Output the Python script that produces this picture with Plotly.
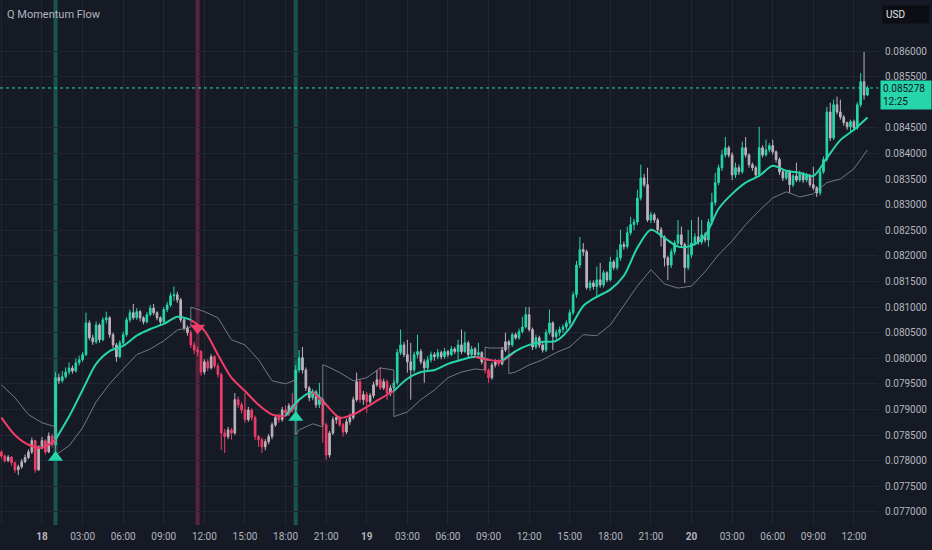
"""
Q Momentum Flow - 15m candles, 17th 21:00 -> 20th 13:00.

Candles are coloured by trend regime (teal = with-trend up, pink =
with-trend down, grey = counter-trend), with the smoothed mid line,
the trailing band that flips side on each regime change, and the
signal triangles with their highlight columns.
"""

import math

import pandas as pd
import plotly.graph_objects as go

# ── Data ───────────────────────────────────────────────────────────────────
START = "2025-06-17 21:00"      # first 15m candle
FIRST_OPEN = 0.07817

CLOSE = [
    0.07809, 0.07800, 0.07807, 0.07796, 0.07782, 0.07788, 0.07798, 0.07806, 0.07817, 0.07839, 0.07782, 0.07827,
    0.07839, 0.07817, 0.07848, 0.07831, 0.07962, 0.07956, 0.07964, 0.07973, 0.07981, 0.07975, 0.07991, 0.07997,
    0.08007, 0.08069, 0.08040, 0.08032, 0.08065, 0.08036, 0.08075, 0.08079, 0.08046, 0.08026, 0.08003, 0.08030,
    0.08046, 0.08075, 0.08089, 0.08079, 0.08091, 0.08079, 0.08071, 0.08085, 0.08098, 0.08089, 0.08079, 0.08071,
    0.08095, 0.08104, 0.08122, 0.08124, 0.08114, 0.08075, 0.08059, 0.08050, 0.08026, 0.08016, 0.08013, 0.07973,
    0.07993, 0.07981, 0.08003, 0.07985, 0.07968, 0.07854, 0.07847, 0.07860, 0.07854, 0.07919, 0.07909, 0.07899,
    0.07880, 0.07899, 0.07884, 0.07847, 0.07841, 0.07827, 0.07837, 0.07847, 0.07870, 0.07884, 0.07880, 0.07899,
    0.07893, 0.07907, 0.07899, 0.07977, 0.08001, 0.07977, 0.07942, 0.07923, 0.07934, 0.07909, 0.07919, 0.07870,
    0.07811, 0.07854, 0.07880, 0.07884, 0.07870, 0.07856, 0.07876, 0.07884, 0.07919, 0.07954, 0.07919, 0.07929,
    0.07915, 0.07927, 0.07948, 0.07958, 0.07942, 0.07954, 0.07932, 0.07942, 0.07952, 0.08011, 0.08026, 0.08007,
    0.07993, 0.07977, 0.08007, 0.08013, 0.07993, 0.07981, 0.07997, 0.08007, 0.08003, 0.08011, 0.08003, 0.08013,
    0.08007, 0.08018, 0.08013, 0.08026, 0.08013, 0.08030, 0.08007, 0.08018, 0.08007, 0.08011, 0.07993, 0.07977,
    0.07962, 0.07987, 0.07993, 0.07989, 0.08016, 0.08032, 0.08026, 0.08046, 0.08040, 0.08052, 0.08061, 0.08085,
    0.08056, 0.08022, 0.08040, 0.08026, 0.08016, 0.08050, 0.08069, 0.08042, 0.08050, 0.08056, 0.08061, 0.08069,
    0.08089, 0.08124, 0.08182, 0.08212, 0.08208, 0.08138, 0.08147, 0.08140, 0.08153, 0.08143, 0.08167, 0.08153,
    0.08188, 0.08177, 0.08196, 0.08222, 0.08218, 0.08245, 0.08261, 0.08266, 0.08313, 0.08352, 0.08339, 0.08270,
    0.08280, 0.08270, 0.08251, 0.08237, 0.08196, 0.08182, 0.08208, 0.08225, 0.08241, 0.08222, 0.08177, 0.08202,
    0.08225, 0.08237, 0.08227, 0.08241, 0.08231, 0.08266, 0.08304, 0.08343, 0.08372, 0.08397, 0.08411, 0.08397,
    0.08358, 0.08372, 0.08364, 0.08411, 0.08397, 0.08378, 0.08372, 0.08358, 0.08411, 0.08397, 0.08407, 0.08415,
    0.08403, 0.08388, 0.08364, 0.08352, 0.08364, 0.08339, 0.08356, 0.08348, 0.08360, 0.08348, 0.08356, 0.08339,
    0.08333, 0.08323, 0.08364, 0.08388, 0.08481, 0.08430, 0.08495, 0.08481, 0.08471, 0.08460, 0.08452, 0.08462,
    0.08450, 0.08495, 0.08540, 0.08514, 0.085278,
]

HIGH = [
    0.07820, 0.07812, 0.07811, 0.07809, 0.07798, 0.07792, 0.07803, 0.07812, 0.07822, 0.07845, 0.07841, 0.07830,
    0.07846, 0.07842, 0.07855, 0.07852, 0.07973, 0.07970, 0.07975, 0.07982, 0.07992, 0.07986, 0.08000, 0.08005,
    0.08012, 0.08089, 0.08074, 0.08046, 0.08072, 0.08068, 0.08080, 0.08091, 0.08082, 0.08050, 0.08030, 0.08035,
    0.08052, 0.08080, 0.08095, 0.08106, 0.08098, 0.08094, 0.08082, 0.08090, 0.08104, 0.08106, 0.08092, 0.08082,
    0.08100, 0.08110, 0.08128, 0.08140, 0.08130, 0.08118, 0.08080, 0.08064, 0.08055, 0.08032, 0.08022, 0.08016,
    0.07998, 0.07998, 0.08008, 0.08006, 0.07990, 0.07972, 0.07862, 0.07866, 0.07864, 0.07932, 0.07925, 0.07914,
    0.07932, 0.07905, 0.07902, 0.07888, 0.07850, 0.07845, 0.07842, 0.07852, 0.07875, 0.07890, 0.07892, 0.07905,
    0.07908, 0.07912, 0.07932, 0.07987, 0.08016, 0.08022, 0.07982, 0.07946, 0.07940, 0.07938, 0.07952, 0.07922,
    0.07874, 0.07858, 0.07886, 0.07890, 0.07888, 0.07874, 0.07882, 0.07892, 0.07925, 0.07972, 0.07958, 0.07936,
    0.07934, 0.07932, 0.07954, 0.07977, 0.07983, 0.07960, 0.07958, 0.07948, 0.07958, 0.08018, 0.08056, 0.08032,
    0.08036, 0.08030, 0.08013, 0.08046, 0.08018, 0.07998, 0.08004, 0.08013, 0.08012, 0.08018, 0.08015, 0.08020,
    0.08016, 0.08024, 0.08022, 0.08036, 0.08056, 0.08052, 0.08034, 0.08024, 0.08022, 0.08030, 0.08014, 0.07996,
    0.07980, 0.07992, 0.07998, 0.07998, 0.08022, 0.08050, 0.08036, 0.08050, 0.08050, 0.08058, 0.08081, 0.08100,
    0.08100, 0.08060, 0.08046, 0.08044, 0.08032, 0.08056, 0.08095, 0.08072, 0.08056, 0.08062, 0.08066, 0.08074,
    0.08095, 0.08130, 0.08190, 0.08237, 0.08225, 0.08212, 0.08152, 0.08152, 0.08179, 0.08186, 0.08172, 0.08170,
    0.08198, 0.08192, 0.08212, 0.08251, 0.08228, 0.08257, 0.08276, 0.08272, 0.08329, 0.08378, 0.08360, 0.08372,
    0.08286, 0.08284, 0.08274, 0.08256, 0.08240, 0.08200, 0.08214, 0.08230, 0.08270, 0.08257, 0.08226, 0.08250,
    0.08270, 0.08244, 0.08276, 0.08270, 0.08246, 0.08272, 0.08323, 0.08362, 0.08378, 0.08407, 0.08432, 0.08415,
    0.08402, 0.08382, 0.08378, 0.08423, 0.08432, 0.08400, 0.08382, 0.08376, 0.08452, 0.08416, 0.08427, 0.08420,
    0.08427, 0.08406, 0.08392, 0.08368, 0.08368, 0.08368, 0.08360, 0.08382, 0.08366, 0.08364, 0.08362, 0.08360,
    0.08374, 0.08336, 0.08370, 0.08394, 0.08491, 0.08499, 0.08505, 0.08511, 0.08505, 0.08475, 0.08462, 0.08466,
    0.08466, 0.08500, 0.08557, 0.08598, 0.08532,
]

LOW = [
    0.07804, 0.07796, 0.07797, 0.07790, 0.07776, 0.07772, 0.07784, 0.07795, 0.07803, 0.07813, 0.07776, 0.07780,
    0.07822, 0.07812, 0.07815, 0.07826, 0.07825, 0.07950, 0.07952, 0.07960, 0.07968, 0.07970, 0.07972, 0.07986,
    0.07993, 0.08004, 0.08035, 0.08026, 0.08028, 0.08030, 0.08033, 0.08068, 0.08040, 0.08020, 0.07993, 0.08000,
    0.08026, 0.08042, 0.08070, 0.08075, 0.08075, 0.08072, 0.08066, 0.08068, 0.08082, 0.08084, 0.08074, 0.08064,
    0.08068, 0.08090, 0.08100, 0.08112, 0.08108, 0.08070, 0.08054, 0.08044, 0.08020, 0.08008, 0.08004, 0.07966,
    0.07968, 0.07975, 0.07978, 0.07980, 0.07962, 0.07821, 0.07815, 0.07842, 0.07841, 0.07850, 0.07903, 0.07892,
    0.07874, 0.07876, 0.07878, 0.07840, 0.07827, 0.07815, 0.07820, 0.07832, 0.07842, 0.07866, 0.07874, 0.07876,
    0.07886, 0.07888, 0.07894, 0.07895, 0.07972, 0.07970, 0.07936, 0.07916, 0.07918, 0.07903, 0.07903, 0.07835,
    0.07802, 0.07806, 0.07850, 0.07872, 0.07866, 0.07847, 0.07852, 0.07870, 0.07880, 0.07915, 0.07913, 0.07909,
    0.07893, 0.07910, 0.07922, 0.07944, 0.07938, 0.07938, 0.07919, 0.07926, 0.07936, 0.07948, 0.08006, 0.08002,
    0.07972, 0.07919, 0.07972, 0.08000, 0.07988, 0.07952, 0.07976, 0.07992, 0.07995, 0.07998, 0.07998, 0.07999,
    0.08002, 0.08004, 0.08008, 0.07993, 0.08008, 0.08010, 0.08002, 0.08004, 0.08002, 0.08004, 0.07988, 0.07970,
    0.07952, 0.07958, 0.07982, 0.07984, 0.07986, 0.08012, 0.08020, 0.08022, 0.08036, 0.08036, 0.08048, 0.08058,
    0.08052, 0.08016, 0.08018, 0.08020, 0.08011, 0.08012, 0.08046, 0.08016, 0.08036, 0.08044, 0.08050, 0.08056,
    0.08064, 0.08084, 0.08118, 0.08176, 0.08200, 0.08134, 0.08132, 0.08134, 0.08120, 0.08138, 0.08138, 0.08148,
    0.08150, 0.08172, 0.08172, 0.08190, 0.08212, 0.08214, 0.08240, 0.08250, 0.08260, 0.08308, 0.08334, 0.08266,
    0.08264, 0.08264, 0.08246, 0.08218, 0.08179, 0.08153, 0.08176, 0.08202, 0.08220, 0.08216, 0.08147, 0.08172,
    0.08196, 0.08220, 0.08222, 0.08222, 0.08226, 0.08218, 0.08260, 0.08298, 0.08338, 0.08366, 0.08392, 0.08392,
    0.08348, 0.08352, 0.08358, 0.08360, 0.08392, 0.08372, 0.08366, 0.08352, 0.08354, 0.08392, 0.08394, 0.08402,
    0.08398, 0.08382, 0.08358, 0.08346, 0.08348, 0.08323, 0.08334, 0.08344, 0.08344, 0.08342, 0.08344, 0.08334,
    0.08328, 0.08315, 0.08318, 0.08360, 0.08384, 0.08424, 0.08426, 0.08476, 0.08466, 0.08454, 0.08446, 0.08440,
    0.08444, 0.08446, 0.08490, 0.08505, 0.08512,
]

# smoothed mid line, one sample per hour from START
MID_LINE = [
    0.07884, 0.07850, 0.07831, 0.07825, 0.07841, 0.07886, 0.07938, 0.07989, 0.08014, 0.08024, 0.08044, 0.08057,
    0.08067, 0.08081, 0.08075, 0.08054, 0.08007, 0.07962, 0.07936, 0.07909, 0.07890, 0.07888, 0.07919, 0.07934,
    0.07909, 0.07884, 0.07890, 0.07905, 0.07921, 0.07936, 0.07960, 0.07973, 0.07977, 0.07989, 0.07997, 0.08003,
    0.07997, 0.07995, 0.08014, 0.08026, 0.08032, 0.08034, 0.08059, 0.08102, 0.08120, 0.08134, 0.08161, 0.08216,
    0.08251, 0.08235, 0.08218, 0.08220, 0.08239, 0.08292, 0.08321, 0.08343, 0.08356, 0.08376, 0.08366, 0.08362,
    0.08356, 0.08391, 0.08426, 0.08446, 0.08470,
]

# trailing band (hours after START); repeated hours are the side flips
BAND_HOURS = [
    0, 1, 2, 3, 4, 4, 5, 6, 7, 8, 9, 10, 11, 12, 13, 14, 14, 15, 16, 17, 18, 19, 20, 21,
    21.75, 21.75, 22, 23, 23.75, 23.75, 24, 25, 26, 27, 28, 29, 29, 30, 31, 32, 33, 34, 35,
    35.75, 35.75, 36, 37, 37.5, 37.5, 38, 39, 40, 41, 42, 43, 44, 45, 46, 47, 48, 49, 50,
    51, 52, 53, 54, 55, 56, 57, 58, 59, 60, 61, 62, 63, 64,
]
BAND_VALUES = [
    0.07948, 0.07923, 0.07890, 0.07874, 0.07866, 0.07811, 0.07829, 0.07864, 0.07915, 0.07950, 0.07979, 0.08007,
    0.08018, 0.08034, 0.08055, 0.08061, 0.08100, 0.08091, 0.08079, 0.08036, 0.08026, 0.07997, 0.07956, 0.07950,
    0.07958, 0.07850, 0.07860, 0.07872, 0.07866, 0.07987, 0.07985, 0.07972, 0.07956, 0.07962, 0.07981, 0.07977,
    0.07886, 0.07895, 0.07919, 0.07938, 0.07962, 0.07973, 0.07979, 0.07977, 0.08022, 0.08020, 0.08020, 0.08020,
    0.07970, 0.07973, 0.07987, 0.07997, 0.08011, 0.08022, 0.08046, 0.08044, 0.08065, 0.08102, 0.08141, 0.08173,
    0.08145, 0.08137, 0.08141, 0.08169, 0.08202, 0.08229, 0.08261, 0.08288, 0.08313, 0.08325, 0.08315, 0.08321,
    0.08343, 0.08350, 0.08370, 0.08407,
]

# trend regimes: start hour and direction (+1 up / -1 down)
REGIME_HOURS = [0, 4, 14, 21.75, 23.75, 29, 35.75, 37.5]
REGIME_DIR   = [-1, 1, -1, 1, -1, 1, -1, 1]

# signal triangles + highlight columns
SIGNAL_HOURS  = [4, 14.5, 21.75]
SIGNAL_PRICES = [0.07806, 0.08059, 0.07884]
SIGNAL_DIR    = ["up", "down", "up"]

X_TICK_LABELS = [
    "21:00", "<b>18</b>", "03:00", "06:00", "09:00", "12:00", "15:00", "18:00",
    "21:00", "<b>19</b>", "03:00", "06:00", "09:00", "12:00", "15:00", "18:00",
    "21:00", "<b>20</b>", "03:00", "06:00", "09:00", "12:00",
]
Y_TICKS = [
    0.0770, 0.0775, 0.0780, 0.0785, 0.0790, 0.0795, 0.0800, 0.0805, 0.0810,
    0.0815, 0.0820, 0.0825, 0.0830, 0.0835, 0.0840, 0.0845, 0.0855, 0.0860,
]
X_RANGE = ["2025-06-17 20:53:48", "2025-06-20 13:46:48"]
Y_RANGE = [0.076743, 0.086996]
COUNTDOWN = "12:25"

# ── Style ──────────────────────────────────────────────────────────────────
BG      = "#161a25"
GRID    = "#222632"
TEXT    = "#b2b5be"
TEAL    = "#26d6aa"
PINK    = "#ef3d6a"
GREY    = "#bdb3ba"
BAND    = "#8d9099"
FONT    = "Roboto"

t0 = pd.Timestamp(START)


def at_hour(h):
    return t0 + pd.to_timedelta(h, unit="h")


def regime_at(hour):
    trend = REGIME_DIR[0]
    for h, d in zip(REGIME_HOURS, REGIME_DIR):
        if hour >= h:
            trend = d
    return trend


# ── Candles, split by colour ───────────────────────────────────────────────
times = pd.date_range(START, periods=len(CLOSE), freq="15min")
opens = [FIRST_OPEN] + CLOSE[:-1]

groups = {TEAL: [], PINK: [], GREY: []}
for i, (o, c) in enumerate(zip(opens, CLOSE)):
    trend = regime_at(i / 4)
    if trend > 0 and c >= o:
        groups[TEAL].append(i)
    elif trend < 0 and c < o:
        groups[PINK].append(i)
    else:
        groups[GREY].append(i)

fig = go.Figure()

for colour, idx in groups.items():
    side = dict(line=dict(color=colour, width=1), fillcolor=colour)
    fig.add_trace(go.Candlestick(
        x=[times[i] for i in idx],
        open=[opens[i] for i in idx],
        high=[HIGH[i] for i in idx],
        low=[LOW[i] for i in idx],
        close=[CLOSE[i] for i in idx],
        increasing=side, decreasing=side,
        whiskerwidth=0, showlegend=False, hoverinfo="skip",
    ))

# ── Trailing band ──────────────────────────────────────────────────────────
fig.add_trace(go.Scatter(
    x=[at_hour(h) for h in BAND_HOURS], y=BAND_VALUES,
    mode="lines", line=dict(color=BAND, width=1),
    opacity=0.8, showlegend=False, hoverinfo="skip",
))

# ── Mid line, coloured per regime ──────────────────────────────────────────
ends = REGIME_HOURS[1:] + [len(MID_LINE) - 1]
for start, end, trend in zip(REGIME_HOURS, ends, REGIME_DIR):
    hrs = list(range(math.floor(start), min(math.ceil(end), len(MID_LINE) - 1) + 1))
    fig.add_trace(go.Scatter(
        x=[at_hour(h) for h in hrs], y=[MID_LINE[h] for h in hrs],
        mode="lines", line=dict(color=TEAL if trend > 0 else PINK, width=2,
                                shape="spline", smoothing=0.8),
        showlegend=False, hoverinfo="skip",
    ))

# ── Signals ────────────────────────────────────────────────────────────────
for h, p, d in zip(SIGNAL_HOURS, SIGNAL_PRICES, SIGNAL_DIR):
    colour = TEAL if d == "up" else PINK
    t = at_hour(h)
    fig.add_vrect(
        x0=t - pd.Timedelta(minutes=9), x1=t + pd.Timedelta(minutes=9),
        fillcolor=colour, opacity=0.3, line_width=0, layer="below",
    )
    fig.add_trace(go.Scatter(
        x=[t], y=[p], mode="markers",
        marker=dict(symbol="triangle-up" if d == "up" else "triangle-down",
                    size=13, color=colour),
        showlegend=False, hoverinfo="skip",
    ))

# ── Last price line + labels ───────────────────────────────────────────────
last = CLOSE[-1]
fig.add_hline(y=last, line=dict(color=TEAL, width=1, dash="dot"))
fig.add_annotation(
    xref="paper", yref="y", x=1.002, y=last, xanchor="left", yanchor="top",
    yshift=8, text=f"{last:.6f}<br>{COUNTDOWN}", align="left",
    showarrow=False, bgcolor=TEAL, borderpad=2, width=46,
    font=dict(family=FONT, size=10, color="#10141d"),
)
fig.add_annotation(
    xref="paper", yref="paper", x=1.005, y=0.99, xanchor="left", yanchor="top",
    text="USD", align="left", showarrow=False, bgcolor="#0c0e14",
    borderpad=3, width=40, font=dict(family=FONT, size=10, color="#e6e8ee"),
)
fig.add_annotation(
    xref="paper", yref="paper", x=0.006, y=0.988, xanchor="left", yanchor="top",
    text="Q Momentum Flow", showarrow=False,
    font=dict(family=FONT, size=11, color=TEXT),
)

# ── Layout ─────────────────────────────────────────────────────────────────
fig.update_layout(
    width=932, height=550,
    margin=dict(l=0, r=54, t=0, b=25),
    paper_bgcolor=BG, plot_bgcolor=BG,
    font=dict(family=FONT, size=10, color=TEXT),
    showlegend=False,
    xaxis=dict(
        type="date", range=X_RANGE, rangeslider=dict(visible=False),
        tickvals=list(pd.date_range(START, periods=len(X_TICK_LABELS), freq="3h")),
        ticktext=X_TICK_LABELS, showgrid=True, gridcolor=GRID, gridwidth=1,
        zeroline=False, showline=False, ticks="", ticklabelstandoff=4,
        tickfont=dict(size=10, color=TEXT),
    ),
    yaxis=dict(
        side="right", range=Y_RANGE, tickvals=Y_TICKS, tickformat=".6f",
        showgrid=True, gridcolor=GRID, gridwidth=1, zeroline=False,
        showline=False, ticks="", ticklabelstandoff=6,
        tickfont=dict(size=10, color=TEXT),
    ),
)

# page body margin would shift the 932x550 figure out of the window
fig.write_html(
    "out.html",
    config={"displayModeBar": False},
    post_script="document.body.style.margin='0';document.body.style.background='#161a25';",
)
